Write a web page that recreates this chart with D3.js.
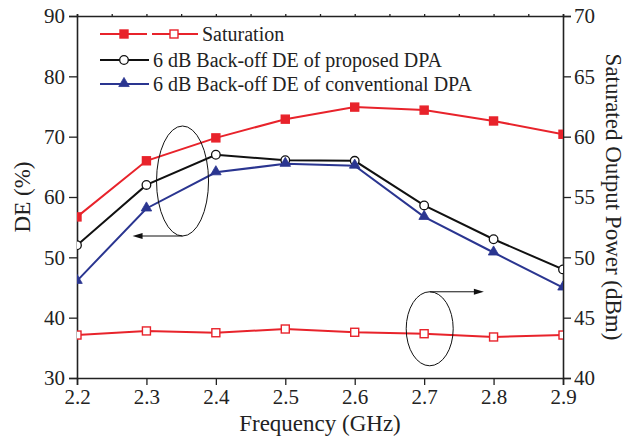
<!DOCTYPE html>
<html>
  <head>
    <meta charset="utf-8" />
    <title>DE and Saturated Output Power vs Frequency</title>
    <script src="https://d3js.org/d3.v7.min.js"></script>
    <style>
        body { margin:0; background:#fff; }
        text { font-family: "Liberation Serif", "Times New Roman", serif; fill:#222; }
    </style>
  </head>
  <body>
    <svg id="viz"></svg>
    <script>

        // data
        var freq = [2.2, 2.3, 2.4, 2.5, 2.6, 2.7, 2.8, 2.9];
        var satDE = [56.7, 66.0, 69.8, 72.9, 74.9, 74.4, 72.6, 70.4];        // left axis
        var satPout = [43.56, 43.9, 43.75, 44.06, 43.79, 43.67, 43.4, 43.56]; // right axis
        var proposedDE = [52.0, 62.0, 67.0, 66.1, 66.0, 58.6, 53.0, 48.0];
        var conventionalDE = [46.1, 58.1, 64.1, 65.5, 65.2, 56.7, 50.8, 45.0];

        var xTicks = [2.2, 2.3, 2.4, 2.5, 2.6, 2.7, 2.8, 2.9];
        var leftTicks = [30, 40, 50, 60, 70, 80, 90];
        var rightTicks = [40, 45, 50, 55, 60, 65, 70];

        var legendLabels = ["Saturation",
            "6 dB Back-off DE of proposed DPA",
            "6 dB Back-off DE of conventional DPA"];

        var width = 634, height = 439;
        var margin = {left: 77, right: 71, top: 16, bottom: 61};
        var red = "#e8232b", blue = "#2a3590", black = "#111";

        var svg = d3.select("#viz").attr("width", width).attr("height", height);

        var x = d3.scaleLinear().domain([2.2, 2.9]).range([margin.left, width - margin.right]);
        var yL = d3.scaleLinear().domain([30, 90]).range([height - margin.bottom, margin.top]);
        var yR = d3.scaleLinear().domain([40, 70]).range([height - margin.bottom, margin.top]);

        // axes: major with labels, minor without
        function minor(a, b, step) { return d3.range(a, b + 1e-9, step); }

        var gx = svg.append("g").attr("transform", "translate(0," + (height - margin.bottom) + ")");
        gx.call(d3.axisBottom(x).tickValues(minor(2.2, 2.9, 0.05)).tickSize(5).tickFormat(""));
        gx.call(d3.axisBottom(x).tickValues(xTicks).tickSize(7).tickPadding(4).tickFormat(d3.format(".1f")));

        var gt = svg.append("g").attr("transform", "translate(0," + margin.top + ")");
        gt.call(d3.axisTop(x).tickValues(minor(2.2, 2.9, 0.05)).tickSize(2).tickFormat(""));

        var gl = svg.append("g").attr("transform", "translate(" + margin.left + ",0)");
        gl.call(d3.axisLeft(yL).tickValues(minor(30, 90, 5)).tickSize(4).tickFormat(""));
        gl.call(d3.axisLeft(yL).tickValues(leftTicks).tickSize(8).tickPadding(4));

        var gr = svg.append("g").attr("transform", "translate(" + (width - margin.right) + ",0)");
        gr.call(d3.axisRight(yR).tickValues(minor(40, 70, 2.5)).tickSize(4).tickFormat(""));
        gr.call(d3.axisRight(yR).tickValues(rightTicks).tickSize(8).tickPadding(3));

        svg.selectAll(".domain").attr("stroke", "#222").attr("stroke-width", 1.6);
        svg.selectAll(".tick line").attr("stroke", "#222").attr("stroke-width", 1.3);
        svg.selectAll(".tick text").style("font-size", "21px").attr("fill", "#222")
            .style("font-family", "Liberation Serif");

        // axis titles
        svg.append("text").attr("x", (margin.left + width - margin.right) / 2).attr("y", 431)
            .attr("text-anchor", "middle").style("font-size", "23px").text("Frequency (GHz)");
        svg.append("text").attr("transform", "translate(30," + ((margin.top + height - margin.bottom) / 2) + ") rotate(-90)")
            .attr("text-anchor", "middle").style("font-size", "23px").text("DE (%)");
        svg.append("text").attr("transform", "translate(606," + ((margin.top + height - margin.bottom) / 2) + ") rotate(90)")
            .attr("text-anchor", "middle").style("font-size", "23px").text("Saturated Output Power (dBm)");

        // clip data to plot area
        svg.append("clipPath").attr("id", "clip").append("rect")
            .attr("x", margin.left).attr("y", margin.top)
            .attr("width", width - margin.left - margin.right)
            .attr("height", height - margin.top - margin.bottom);
        var plot = svg.append("g").attr("clip-path", "url(#clip)");

        var series = [
            {vals: satDE, y: yL, color: red, mark: "square", fill: red},
            {vals: proposedDE, y: yL, color: black, mark: "circle", fill: "#fff"},
            {vals: conventionalDE, y: yL, color: blue, mark: "triangle", fill: blue},
            {vals: satPout, y: yR, color: red, mark: "square", fill: "#fff"}
        ];

        function drawMark(g, type, color, fill, cx, cy) {
            if (type === "square") {
                g.append("rect").attr("x", cx - 4).attr("y", cy - 4).attr("width", 8).attr("height", 8)
                    .attr("fill", fill).attr("stroke", color).attr("stroke-width", 1.4);
            } else if (type === "circle") {
                g.append("circle").attr("cx", cx).attr("cy", cy).attr("r", 4.3)
                    .attr("fill", fill).attr("stroke", color).attr("stroke-width", 1.3);
            } else {
                g.append("path").attr("d", d3.symbol().type(d3.symbolTriangle).size(48)())
                    .attr("transform", "translate(" + cx + "," + (cy - 0.5) + ")")
                    .attr("fill", fill).attr("stroke", color).attr("stroke-width", 0.8);
            }
        }

        series.forEach(function (s) {
            var line = d3.line().x(function (d, i) { return x(freq[i]); }).y(function (d) { return s.y(d); });
            plot.append("path").datum(s.vals).attr("d", line)
                .attr("fill", "none").attr("stroke", s.color).attr("stroke-width", 2);
            s.vals.forEach(function (v, i) {
                drawMark(plot, s.mark, s.color, s.fill, x(freq[i]), s.y(v));
            });
        });

        // ellipses with arrows pointing at each axis
        var ann = svg.append("g").attr("stroke", black).attr("fill", "none").attr("stroke-width", 1);
        ann.append("ellipse").attr("cx", x(2.352)).attr("cy", yL(62.65)).attr("rx", 26).attr("ry", 55);
        ann.append("ellipse").attr("cx", x(2.708)).attr("cy", yR(44.08)).attr("rx", 23.5).attr("ry", 37);

        function arrow(x1, y1, x2, y2) {
            var dir = x2 > x1 ? 1 : -1;
            ann.append("line").attr("x1", x1).attr("y1", y1).attr("x2", x2 - dir * 6).attr("y2", y2);
            ann.append("path").attr("d", "M" + x2 + "," + y2 + "L" + (x2 - dir * 10) + "," + (y2 - 3) +
                "L" + (x2 - dir * 10) + "," + (y2 + 3) + "Z").attr("fill", black).attr("stroke", "none");
        }
        arrow(x(2.352), yL(62.65) + 55, x(2.28), yL(62.65) + 55);
        arrow(x(2.708), yR(44.08) - 37, x(2.786), yR(44.08) - 37);

        // legend
        var leg = svg.append("g");
        var rows = [34, 60, 84];
        // row 1: filled square - dashed - open square
        leg.append("line").attr("x1", 100).attr("x2", 198).attr("y1", rows[0]).attr("y2", rows[0])
            .attr("stroke", red).attr("stroke-width", 2).attr("stroke-dasharray", "47,5,100");
        drawMark(leg, "square", red, red, 124, rows[0]);
        drawMark(leg, "square", red, "#fff", 174, rows[0]);
        leg.append("line").attr("x1", 100).attr("x2", 149).attr("y1", rows[1]).attr("y2", rows[1])
            .attr("stroke", black).attr("stroke-width", 2);
        drawMark(leg, "circle", black, "#fff", 124, rows[1]);
        leg.append("line").attr("x1", 100).attr("x2", 149).attr("y1", rows[2]).attr("y2", rows[2])
            .attr("stroke", blue).attr("stroke-width", 2);
        drawMark(leg, "triangle", blue, blue, 124, rows[2]);

        leg.selectAll("text.lab").data(legendLabels).enter().append("text").attr("class", "lab")
            .attr("x", function (d, i) { return i === 0 ? 202 : 153; })
            .attr("y", function (d, i) { return rows[i] + 7; })
            .style("font-size", "20px").text(function (d) { return d; });

    </script>
  </body>
</html>
